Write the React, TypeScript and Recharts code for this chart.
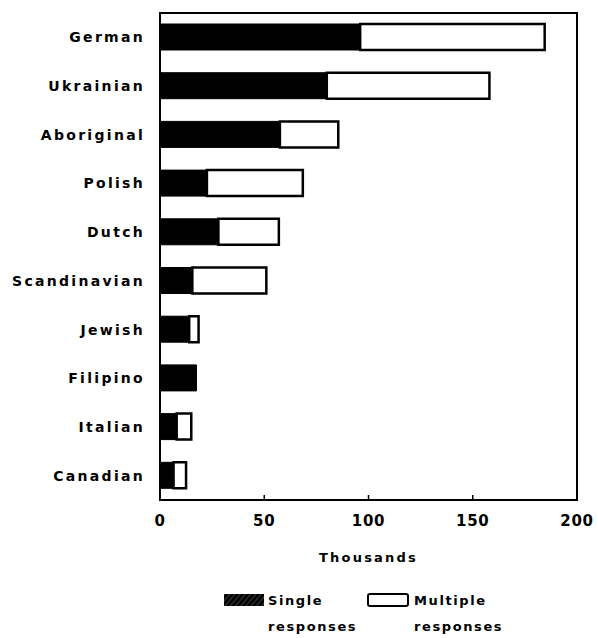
import React from "react";
import { BarChart, Bar, XAxis, YAxis, ReferenceArea, Label } from "recharts";

const categories = ["German", "Ukrainian", "Aboriginal", "Polish", "Dutch", "Scandinavian", "Jewish", "Filipino", "Italian", "Canadian"];
const singleResponses = [96, 80, 57.5, 22.5, 28, 15.5, 14, 17.5, 8, 6.5];
const multipleResponses = [88.5, 78, 28, 46, 29, 35.5, 4.5, 0, 7, 6];
const xTicks = [0, 50, 100, 150, 200];

const data = categories.map((name, i) => ({
  name,
  single: singleResponses[i],
  multiple: multipleResponses[i],
}));

const FONT = "'DejaVu Sans', sans-serif";

const YTick = (props: any) => {
  const { x, y, payload } = props;
  return (
    <text
      x={x}
      y={y}
      dy="0.36em"
      textAnchor="end"
      fontFamily={FONT}
      fontWeight={700}
      fontSize={14}
      letterSpacing={2.3}
      fill="#000"
    >
      {payload.value}
    </text>
  );
};

const XTick = (props: any) => {
  const { x, y, payload } = props;
  const v = payload.value;
  return (
    <g>
      {v !== 0 && v !== 200 ? (
        <line x1={x} y1={y} x2={x} y2={y - 5} stroke="#000" strokeWidth={1.5} />
      ) : null}
      <text
        x={x}
        y={y + 26}
        textAnchor="middle"
        fontFamily={FONT}
        fontWeight={700}
        fontSize={15}
        letterSpacing={0.8}
        fill="#000"
      >
        {v}
      </text>
    </g>
  );
};

const legendText: React.CSSProperties = {
  position: "absolute",
  fontFamily: FONT,
  fontWeight: 700,
  fontSize: 13,
  letterSpacing: 1.6,
  lineHeight: "26px",
  color: "#000",
  whiteSpace: "nowrap",
};

export default function App() {
  return (
    <div style={{ position: "absolute", left: 0, top: 0, width: 598, height: 638, background: "#fff" }}>
      <svg width={0} height={0} style={{ position: "absolute" }}>
        <defs>
          <pattern id="hatch" width="4" height="4" patternUnits="userSpaceOnUse" patternTransform="rotate(40)">
            <rect width="4" height="4" fill="#000" />
            <line x1="0" y1="0" x2="0" y2="4" stroke="#aaa" strokeWidth="0.7" />
          </pattern>
        </defs>
      </svg>
      <BarChart
        width={598}
        height={638}
        data={data}
        layout="vertical"
        margin={{ top: 13, right: 21, bottom: 98, left: 0 }}
        barSize={26}
      >
        <XAxis
          type="number"
          domain={[0, 200]}
          ticks={xTicks}
          tick={<XTick />}
          tickLine={false}
          tickSize={0}
          tickMargin={0}
          axisLine={false}
          height={40}
          interval={0}
        >
          <Label
            value="Thousands"
            position="bottom"
            offset={13}
            fontFamily={FONT}
            fontWeight={700}
            fontSize={13}
            letterSpacing={2.2}
            fill="#000"
          />
        </XAxis>
        <YAxis
          type="category"
          dataKey="name"
          width={160}
          tick={<YTick />}
          tickLine={false}
          tickSize={0}
          tickMargin={15}
          axisLine={false}
          interval={0}
        />
        <Bar dataKey="single" stackId="a" fill="#000" stroke="#000" strokeWidth={1} isAnimationActive={false} />
        <Bar dataKey="multiple" stackId="a" fill="#fff" stroke="#000" strokeWidth={2.5} isAnimationActive={false} />
        <ReferenceArea x1={0} x2={200} fill="none" stroke="#000" strokeWidth={2} ifOverflow="visible" />
      </BarChart>
      <svg style={{ position: "absolute", left: 224, top: 594 }} width={40} height={12}>
        <rect x={0} y={0} width={40} height={12} fill="url(#hatch)" />
      </svg>
      <svg style={{ position: "absolute", left: 367, top: 593 }} width={42} height={14}>
        <rect x={1} y={1} width={40} height={12} rx={2} fill="#fff" stroke="#000" strokeWidth={2} />
      </svg>
      <div style={{ ...legendText, left: 268, top: 588 }}>Single</div>
      <div style={{ ...legendText, left: 268, top: 614 }}>responses</div>
      <div style={{ ...legendText, left: 414, top: 588 }}>Multiple</div>
      <div style={{ ...legendText, left: 414, top: 614 }}>responses</div>
    </div>
  );
}
